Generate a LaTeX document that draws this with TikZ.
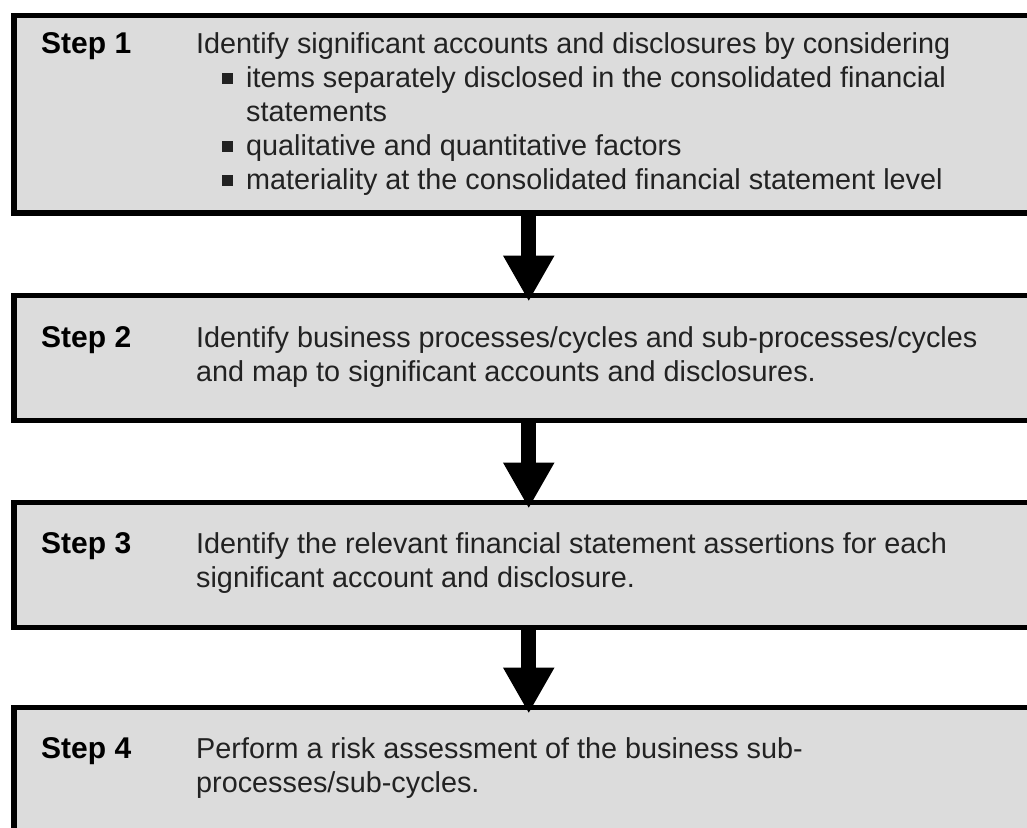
\documentclass[tikz,border=0pt]{standalone}
\usepackage{fontspec}
\setmainfont{Liberation Sans}
\usetikzlibrary{arrows.meta}
\definecolor{stepfill}{HTML}{DCDCDC}
\definecolor{stepink}{HTML}{222222}
\newcommand{\stepbullet}{\hspace*{26pt}\rule[3.5pt]{11pt}{11pt}\hspace{13pt}}
\newcommand{\stepindent}{\hspace*{50pt}}

\begin{document}
\begin{tikzpicture}[x=1pt, y=-1pt,
  stepbox/.style={draw=black, line width=5.5pt, fill=stepfill, anchor=north west, minimum width=1030pt, inner sep=0pt},
  steplbl/.style={anchor=base west, inner sep=0pt, font=\fontsize{30}{34}\selectfont\bfseries},
  % multi-line text: base anchor sits on the last line
  steptxt/.style={anchor=base west, inner sep=0pt, align=left, text=stepink, font=\fontsize{28.8}{34}\selectfont},
  flow/.style={line width=15pt, -{Triangle[length=46pt, width=48pt]}}
]
  \useasboundingbox (0,0) rectangle (1027,827);
  \clip (0,0) rectangle (1027,827);

  % the four step boxes run off the right edge
  \node[stepbox, minimum height=197.5pt] (s1) at (11,12.5) {};
  \node[stepbox, minimum height=125pt] (s2) at (11,292.5) {};
  \node[stepbox, minimum height=125pt] (s3) at (11,499.5) {};
  \node[stepbox, minimum height=125pt] (s4) at (11,704.5) {};

  \node[steplbl] (l1) at (41,53) {Step 1};
  \node[steptxt] (t1) at (196,189) {Identify significant accounts and disclosures by considering\\
    \stepbullet items separately disclosed in the consolidated financial\\
    \stepindent statements\\
    \stepbullet qualitative and quantitative factors\\
    \stepbullet materiality at the consolidated financial statement level};

  \node[steplbl] (l2) at (41,347) {Step 2};
  \node[steptxt] (t2) at (196,381) {Identify business processes/cycles and sub-processes/cycles\\
    and map to significant accounts and disclosures.};

  \node[steplbl] (l3) at (41,553) {Step 3};
  \node[steptxt] (t3) at (196,587) {Identify the relevant financial statement assertions for each\\
    significant account and disclosure.};

  \node[steplbl] (l4) at (41,758) {Step 4};
  \node[steptxt] (t4) at (196,792) {Perform a risk assessment of the business sub-\\
    processes/sub-cycles.};

  \draw[flow] (s1.south) -- ([yshift=-9pt]s2.north);
  \draw[flow] (s2.south) -- ([yshift=-9pt]s3.north);
  \draw[flow] (s3.south) -- ([yshift=-9pt]s4.north);
\end{tikzpicture}
\end{document}
